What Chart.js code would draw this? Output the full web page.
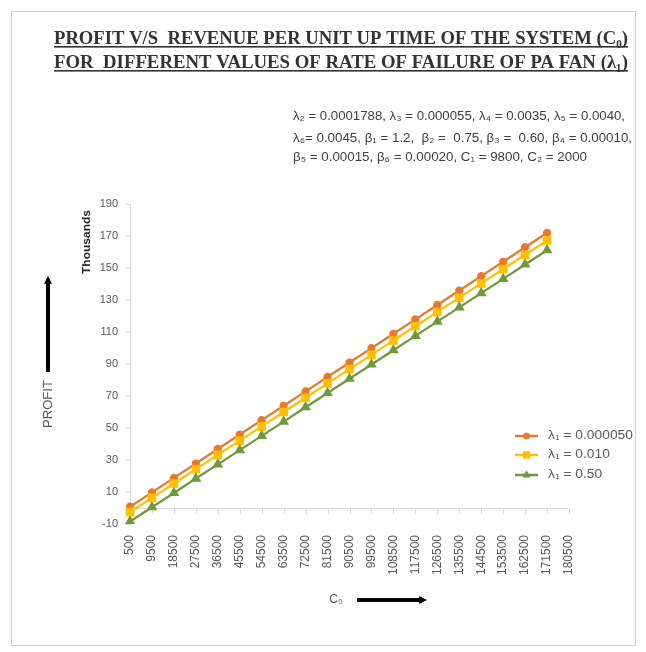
<!DOCTYPE html>
<html>
<head>
<meta charset="utf-8">
<script src="https://cdn.jsdelivr.net/npm/chart.js@4"></script>
<style>
  html, body { margin: 0; padding: 0; background: #ffffff; }
  #wrap { width: 646px; height: 652px; position: relative; }
</style>
</head>
<body>
<div id="wrap"><canvas id="c" width="646" height="652"></canvas></div>
<script>
// Revenue per unit up time of the system (C0)
const revenueLabels = ['500', '9500', '18500', '27500', '36500', '45500', '54500', '63500', '72500',
  '81500', '90500', '99500', '108500', '117500', '126500', '135500', '144500', '153500',
  '162500', '171500', '180500'];

// Profit (thousands) for each failure rate of the PA fan
const profitLambdaA = [0.8, 9.8, 18.8, 27.8, 36.9, 45.9, 54.9, 63.9, 72.9, 81.9, 90.9, 99.9,
  108.9, 117.9, 126.9, 135.9, 144.9, 153.9, 163.0, 172.0, null];
const profitLambdaB = [-2.6, 6.3, 15.3, 24.2, 33.2, 42.1, 51.0, 60.0, 68.9, 77.9, 86.8, 95.7,
  104.7, 113.6, 122.6, 131.5, 140.4, 149.4, 158.3, 167.2, null];
const profitLambdaC = [-8.4, 0.5, 9.4, 18.4, 27.3, 36.2, 45.1, 54.0, 63.0, 71.9, 80.8, 89.7,
  98.6, 107.6, 116.5, 125.4, 134.3, 143.2, 152.2, 161.1, null];

const seriesNames = ['λ₁ = 0.000050', 'λ₁ = 0.010', 'λ₁ = 0.50'];
const yTicks = { min: -10, max: 190, step: 20 };

const titleLines = [
  'PROFIT V/S  REVENUE PER UNIT UP TIME OF THE SYSTEM (C₀)',
  'FOR  DIFFERENT VALUES OF RATE OF FAILURE OF PA FAN (λ₁)'
];
const paramLines = [
  'λ₂ = 0.0001788, λ₃ = 0.000055, λ₄ = 0.0035, λ₅ = 0.0040,',
  'λ₆= 0.0045, β₁ = 1.2,  β₂ =  0.75, β₃ =  0.60, β₄ = 0.00010,',
  'β₅ = 0.00015, β₆ = 0.00020, C₁ = 9800, C₂ = 2000'
];

const COL_ORANGE = '#E9782A';
const COL_YELLOW = '#FFC000';
const COL_GREEN = '#6E9A3A';
const TEXT_GRAY = '#595959';
const AXIS_GRAY = '#d9d9d9';

// draw text squeezed/stretched horizontally to a given width
function fitText(ctx, text, x, y, width, font, color) {
  ctx.save();
  ctx.font = font;
  const w = ctx.measureText(text).width;
  ctx.translate(x, y);
  ctx.scale(width / w, 1);
  ctx.fillStyle = color;
  ctx.textAlign = 'left';
  ctx.textBaseline = 'alphabetic';
  ctx.fillText(text, 0, 0);
  ctx.restore();
}

function scaledText(ctx, text, x, y, sx, font, color) {
  ctx.save();
  ctx.font = font;
  ctx.translate(x, y);
  ctx.scale(sx, 1);
  ctx.fillStyle = color;
  ctx.textAlign = 'left';
  ctx.textBaseline = 'middle';
  ctx.fillText(text, 0, 0);
  ctx.restore();
}

function arrow(ctx, x1, y1, x2, y2) {
  const ang = Math.atan2(y2 - y1, x2 - x1);
  const head = 6;
  ctx.save();
  ctx.strokeStyle = '#000';
  ctx.fillStyle = '#000';
  ctx.lineWidth = 4;
  ctx.beginPath();
  ctx.moveTo(x1, y1);
  ctx.lineTo(x2 - Math.cos(ang) * head, y2 - Math.sin(ang) * head);
  ctx.stroke();
  ctx.beginPath();
  ctx.moveTo(x2, y2);
  ctx.lineTo(x2 - Math.cos(ang) * head * 1.3 + Math.sin(ang) * 4, y2 - Math.sin(ang) * head * 1.3 - Math.cos(ang) * 4);
  ctx.lineTo(x2 - Math.cos(ang) * head * 1.3 - Math.sin(ang) * 4, y2 - Math.sin(ang) * head * 1.3 + Math.cos(ang) * 4);
  ctx.closePath();
  ctx.fill();
  ctx.restore();
}

const decorations = {
  id: 'decorations',
  beforeDraw(chart) {
    const ctx = chart.ctx;
    ctx.save();
    ctx.fillStyle = '#fff';
    ctx.fillRect(0, 0, chart.width, chart.height);
    ctx.strokeStyle = '#cfcfcf';
    ctx.lineWidth = 1;
    ctx.strokeRect(11.5, 11.5, 624, 634);
    ctx.restore();
  },
  beforeDatasetsDraw(chart) {
    const ctx = chart.ctx;
    const xs = chart.scales.x, ys = chart.scales.y;
    // category axis crosses the value axis at zero
    const y0 = Math.round(ys.getPixelForValue(0)) + 0.5;
    ctx.save();
    ctx.strokeStyle = AXIS_GRAY;
    ctx.lineWidth = 1;
    ctx.beginPath();
    ctx.moveTo(xs.left, y0);
    ctx.lineTo(xs.right, y0);
    ctx.stroke();
    for (let i = 0; i < revenueLabels.length; i++) {
      const px = Math.round(xs.getPixelForValue(i)) + 0.5;
      ctx.beginPath();
      ctx.moveTo(px, y0);
      ctx.lineTo(px, y0 + 5);
      ctx.stroke();
    }
    ctx.restore();
  },
  afterDraw(chart) {
    const ctx = chart.ctx;
    // title with underlines
    const titleFont = 'bold 19px "Liberation Serif", "Times New Roman", serif';
    const tx = 54, tw = 574;
    [[44, titleLines[0]], [68, titleLines[1]]].forEach(([by, t]) => {
      fitText(ctx, t, tx, by, tw, titleFont, '#333333');
      ctx.save();
      ctx.fillStyle = '#333333';
      ctx.fillRect(tx, by + 2, tw, 1.6);
      ctx.restore();
    });
    // model parameters
    const pFont = '12px "Liberation Sans", Arial, sans-serif';
    fitText(ctx, paramLines[0], 293, 120, 332, pFont, '#404040');
    fitText(ctx, paramLines[1], 293, 142, 339, pFont, '#404040');
    fitText(ctx, paramLines[2], 293, 161, 294, pFont, '#404040');

    // display-units label of the value axis
    ctx.save();
    ctx.translate(87, 242);
    ctx.rotate(-Math.PI / 2);
    ctx.font = 'bold 10px "Liberation Sans", Arial, sans-serif';
    const tw2 = ctx.measureText('Thousands').width;
    ctx.scale(64 / tw2, 1);
    ctx.fillStyle = '#262626';
    ctx.textAlign = 'center';
    ctx.textBaseline = 'middle';
    ctx.fillText('Thousands', 0, 0);
    ctx.restore();

    // PROFIT axis caption with arrow
    ctx.save();
    ctx.translate(49, 404);
    ctx.rotate(-Math.PI / 2);
    ctx.font = '12px "Liberation Sans", Arial, sans-serif';
    const pw = ctx.measureText('PROFIT').width;
    ctx.scale(48 / pw, 1);
    ctx.fillStyle = TEXT_GRAY;
    ctx.textAlign = 'center';
    ctx.textBaseline = 'middle';
    ctx.fillText('PROFIT', 0, 0);
    ctx.restore();
    arrow(ctx, 48, 372, 48, 276);

    // C0 caption with arrow
    ctx.save();
    ctx.font = '12px "Liberation Sans", Arial, sans-serif';
    ctx.fillStyle = TEXT_GRAY;
    ctx.textAlign = 'center';
    ctx.textBaseline = 'middle';
    ctx.fillText('C₀', 336, 600);
    ctx.restore();
    arrow(ctx, 357, 600, 427, 600);

    // legend
    const legendFont = '12px "Liberation Sans", Arial, sans-serif';
    const rows = [436, 455, 475];
    ctx.save();
    ctx.font = legendFont;
    const lsx = 85 / ctx.measureText(seriesNames[0]).width;
    ctx.restore();
    chart.data.datasets.forEach((ds, i) => {
      const ry = rows[i];
      ctx.save();
      ctx.strokeStyle = ds.borderColor;
      ctx.lineWidth = 2.5;
      ctx.beginPath();
      ctx.moveTo(515, ry);
      ctx.lineTo(538, ry);
      ctx.stroke();
      ctx.fillStyle = ds.pointBackgroundColor;
      ctx.strokeStyle = ds.pointBorderColor;
      ctx.lineWidth = 1;
      Chart.helpers.drawPoint(ctx, {
        pointStyle: ds.pointStyle,
        radius: ds.pointRadius,
        rotation: 0,
        borderWidth: 1
      }, 526.5, ry);
      ctx.restore();
      scaledText(ctx, seriesNames[i], 548, ry, lsx, legendFont, TEXT_GRAY);
    });
  }
};

const ctx = document.getElementById('c').getContext('2d');
const chart = new Chart(ctx, {
  type: 'line',
  data: {
    labels: revenueLabels,
    datasets: [
      {
        label: seriesNames[0], data: profitLambdaA,
        borderColor: COL_ORANGE, backgroundColor: COL_ORANGE,
        borderWidth: 2.25, pointStyle: 'circle', pointRadius: 3,
        pointBorderColor: COL_ORANGE, pointBackgroundColor: COL_ORANGE, order: 3
      },
      {
        label: seriesNames[1], data: profitLambdaB,
        borderColor: COL_YELLOW, backgroundColor: COL_YELLOW,
        borderWidth: 2.25, pointStyle: 'rect', pointRadius: 4.5,
        pointBorderColor: COL_YELLOW, pointBackgroundColor: COL_YELLOW, order: 2
      },
      {
        label: seriesNames[2], data: profitLambdaC,
        borderColor: COL_GREEN, backgroundColor: COL_GREEN,
        borderWidth: 2.25, pointStyle: 'triangle', pointRadius: 4,
        pointBorderColor: COL_GREEN, pointBackgroundColor: COL_GREEN, order: 1
      }
    ]
  },
  options: {
    responsive: false,
    animation: false,
    events: [],
    layout: { padding: { left: 90, right: 77, top: 204, bottom: 68 } },
    plugins: {
      legend: { display: false },
      title: { display: false },
      tooltip: { enabled: false }
    },
    elements: { line: { tension: 0 } },
    scales: {
      x: {
        type: 'category',
        offset: false,
        grid: { display: false },
        border: { display: false },
        ticks: {
          autoSkip: false, maxRotation: 90, minRotation: 90, padding: 3,
          color: TEXT_GRAY,
          font: { family: '"Liberation Sans", Arial, sans-serif', size: 12 }
        },
        afterFit(s) { s.height = 60; }
      },
      y: {
        min: yTicks.min, max: yTicks.max,
        border: { display: true, color: AXIS_GRAY, width: 1 },
        grid: {
          drawTicks: true, tickLength: 4,
          color: 'rgba(0,0,0,0)',
          tickColor: AXIS_GRAY
        },
        ticks: {
          stepSize: yTicks.step, padding: 8, color: TEXT_GRAY,
          font: { family: '"Liberation Sans", Arial, sans-serif', size: 11 }
        },
        afterFit(s) { s.width = 40; }
      }
    }
  },
  plugins: [decorations]
});
</script>
</body>
</html>
